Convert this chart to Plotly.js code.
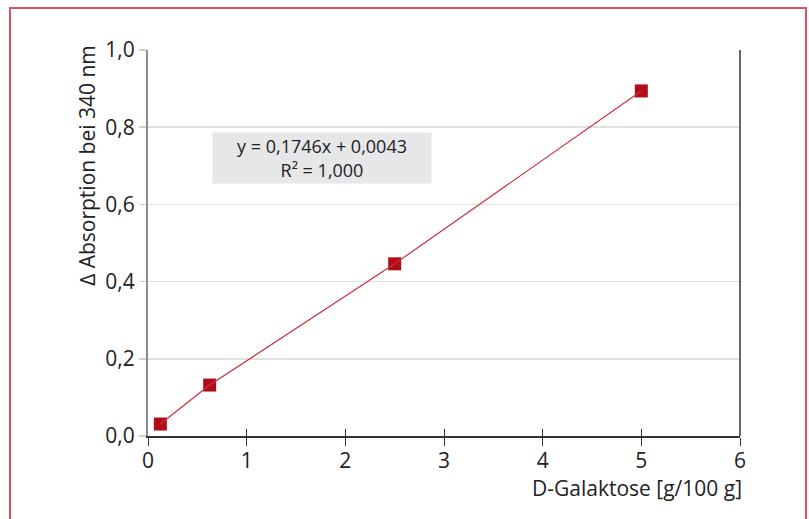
<!DOCTYPE html>
<html>
<head>
<meta charset="utf-8">
<script src="https://cdn.plot.ly/plotly-3.0.1.min.js"></script>
<style>
  html, body { margin: 0; padding: 0; background: #fff; overflow: hidden; }
  #wrap { position: relative; width: 809px; height: 519px; }
  #frame { position: absolute; left: 9px; top: 7px; width: 794px; height: 600px;
           border: 2px solid #d2575f; border-bottom: none; pointer-events: none; z-index: 5; }
  #chart { position: absolute; left: 0; top: 0; width: 809px; height: 519px; }
</style>
</head>
<body>
<div id="wrap">
  <div id="chart"></div>
  <div id="frame"></div>
</div>
<script>
// Data
var galaktose = [0.125, 0.625, 2.5, 5.0];        // D-Galaktose [g/100 g]
var absorption = [0.031, 0.132, 0.446, 0.894];   // Δ Absorption bei 340 nm
var xTicks = [0, 1, 2, 3, 4, 5, 6];
var xTickLabels = ['0', '1', '2', '3', '4', '5', '6'];
var yTicks = [0, 0.2, 0.4, 0.6, 0.8, 1.0];
var yTickLabels = ['0,0', '0,2', '0,4', '0,6', '0,8', '1,0'];
var equationText = 'y = 0,1746x + 0,0043<br>R\u00b2 = 1,000';
var xTitle = 'D-Galaktose [g/100 g]';
var yTitle = '\u2206 Absorption bei 340 nm';

var font = 'Open Sans, Noto Sans, sans-serif';

var traces = [
  {
    x: galaktose, y: absorption, type: 'scatter', mode: 'lines',
    xaxis: 'x2', yaxis: 'y',
    line: { color: '#c8303c', width: 1.2 },
    hoverinfo: 'skip', showlegend: false
  },
  {
    x: galaktose, y: absorption, type: 'scatter', mode: 'markers',
    marker: { symbol: 'square', size: 13, color: '#b00d18',
              line: { color: '#b00d18', width: 0 } },
    showlegend: false
  }
];

var layout = {
  width: 809, height: 519,
  margin: { l: 148, r: 69, t: 50, b: 83 },
  paper_bgcolor: '#ffffff', plot_bgcolor: '#ffffff',
  font: { family: font, size: 21, color: '#222222' },
  xaxis: {
    range: [0, 6], tickvals: xTicks, ticktext: xTickLabels,
    showgrid: false, zeroline: false,
    showline: true, linecolor: '#333333', linewidth: 1.5,
    ticks: 'outside', ticklen: 8, tickcolor: '#333333', tickwidth: 1,
    ticklabelstandoff: -3,
    tickfont: { family: font, size: 21, color: '#222222' },
    fixedrange: true
  },
  xaxis2: {
    range: [0, 6], overlaying: 'x', anchor: 'y', side: 'bottom',
    tickvals: xTicks, showticklabels: false,
    showgrid: false, zeroline: false, showline: false,
    ticks: 'inside', ticklen: 7, tickcolor: '#333333', tickwidth: 1,
    fixedrange: true
  },
  yaxis: {
    range: [0, 1.0], tickvals: yTicks, ticktext: yTickLabels,
    showgrid: true, gridcolor: '#e0e0e0', gridwidth: 1.5,
    zeroline: false,
    showline: true, linecolor: '#8c8c8c', linewidth: 2,
    ticks: 'outside', ticklen: 7, tickcolor: '#cfcfcf', tickwidth: 1.5,
    tickfont: { family: font, size: 21, color: '#222222' },
    fixedrange: true
  },
  shapes: [
    { type: 'line', xref: 'x domain', yref: 'y domain', x0: 1, x1: 1, y0: 0, y1: 1,
      line: { color: '#333333', width: 1.5 } }
  ],
  annotations: [
    { text: equationText, xref: 'paper', yref: 'paper', x: 0.294, y: 0.72,
      xanchor: 'center', yanchor: 'middle', showarrow: false,
      width: 218, height: 50, borderpad: 0, bgcolor: '#e6e7e8',
      font: { family: font, size: 18, color: '#222222' }, align: 'center' },
    { text: xTitle, xref: 'paper', yref: 'paper', x: 1.006, y: -0.134,
      xanchor: 'right', yanchor: 'middle', showarrow: false,
      font: { family: font, size: 21, color: '#222222' } },
    { text: yTitle, xref: 'paper', yref: 'paper', x: -0.103, y: 1.017,
      xanchor: 'center', yanchor: 'top', textangle: -90, showarrow: false,
      font: { family: font, size: 21, color: '#222222' } }
  ]
};

Plotly.newPlot('chart', traces, layout, { staticPlot: true, displayModeBar: false });
</script>
</body>
</html>
